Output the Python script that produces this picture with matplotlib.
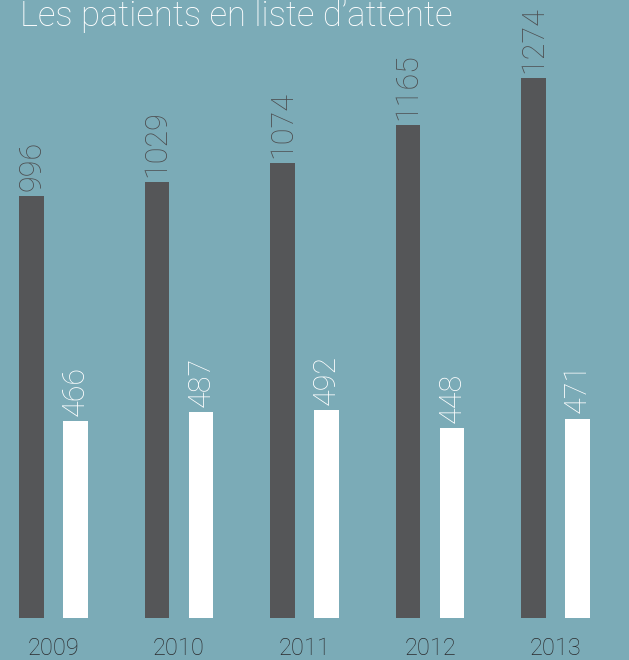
import matplotlib
matplotlib.use("Agg")
import matplotlib.pyplot as plt
import numpy as np

years = ["2009", "2010", "2011", "2012", "2013"]
dark_values = [996, 1029, 1074, 1165, 1274]
white_values = [466, 487, 492, 448, 471]

BG = "#7BABB7"
DARK = "#555658"
TXT_DARK = "#4d4e50"
YEAR_COL = "#2b2b2d"
FONT = ["Roboto", "DejaVu Sans"]
WT = "light"

fig = plt.figure(figsize=(6.29, 6.60), dpi=100)
fig.patch.set_facecolor(BG)
base = (660 - 618) / 660
ax = fig.add_axes([0, base, 1, 1 - base])
ax.set_facecolor(BG)
for s in ax.spines.values():
    s.set_visible(False)
ax.set_xticks([])
ax.set_yticks([])

x = np.arange(len(years))
off = 0.175
w = 0.198
ax.bar(x - off, dark_values, width=w, color=DARK)
ax.bar(x + off, white_values, width=w, color="white")
ax.set_xlim(-53.5 / 125.5, (629 - 53.5) / 125.5)
ax.set_ylim(0, 618 / 0.4235)

pad = 12
for xi, v in zip(x, dark_values):
    ax.text(xi - off, v + pad, str(v), rotation=90, ha="center", va="bottom",
            color=TXT_DARK, fontsize=22, family=FONT, fontweight=WT)
for xi, v in zip(x, white_values):
    ax.text(xi + off, v + pad, str(v), rotation=90, ha="center", va="bottom",
            color="white", fontsize=22, family=FONT, fontweight=WT)

for xi, y in zip(x, years):
    ax.text(xi, -0.049, y, transform=ax.get_xaxis_transform(), ha="center",
            va="center", color=YEAR_COL, fontsize=17, family=FONT, fontweight=WT,
            clip_on=False)

fig.text(20 / 629, 1 - 26 / 660, "Les patients en liste d\u2019attente", ha="left",
         va="baseline", color="white", fontsize=25, family=FONT, fontweight=WT)

fig.savefig("out.png", dpi=100, facecolor=BG)
